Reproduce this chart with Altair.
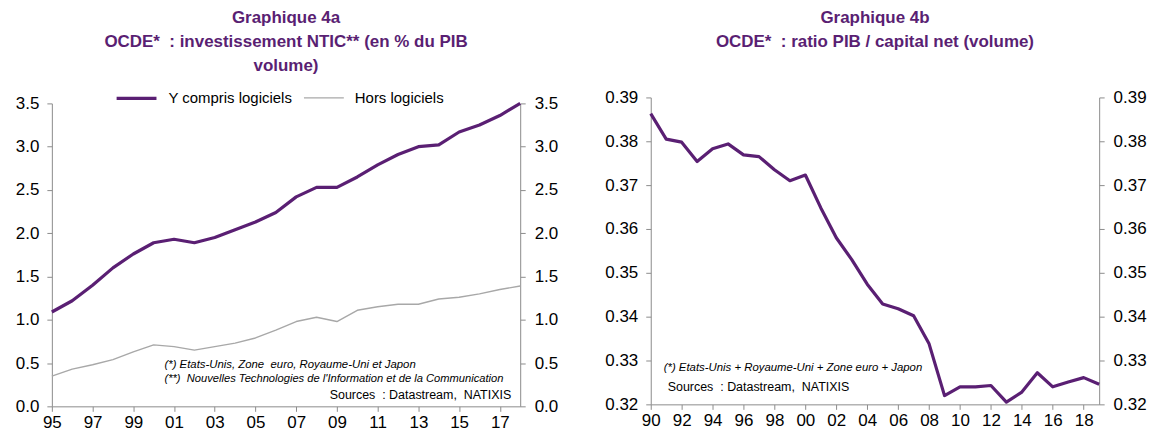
import altair as alt
import pandas as pd

# ---- data ----
years_a = list(range(1995, 2019))
y_compris = [1.09, 1.22, 1.40, 1.60, 1.76, 1.89, 1.93, 1.89, 1.95, 2.04, 2.13, 2.24,
             2.42, 2.53, 2.53, 2.65, 2.79, 2.91, 3.00, 3.02, 3.17, 3.25, 3.36, 3.50]
hors_logiciels = [0.35, 0.43, 0.48, 0.54, 0.63, 0.71, 0.69, 0.65, 0.69, 0.73, 0.79, 0.88,
                  0.98, 1.03, 0.98, 1.11, 1.15, 1.18, 1.18, 1.24, 1.26, 1.30, 1.35, 1.39]
years_b = list(range(1990, 2020))
ratio_pib_capital = [0.3863, 0.3805, 0.3798, 0.3754, 0.3783, 0.3794, 0.3769, 0.3765, 0.3735, 0.3710,
                     0.3723, 0.3648, 0.3580, 0.3530, 0.3474, 0.3429, 0.3418, 0.3402, 0.3338, 0.3220,
                     0.3240, 0.3240, 0.3243, 0.3205, 0.3228, 0.3272, 0.3240, 0.3251, 0.3261, 0.3246]
series_names = ["Y compris logiciels", "Hors logiciels"]
ticks_a_x = list(range(1995, 2018, 2))
ticks_b_x = list(range(1990, 2019, 2))
ticks_a_y = [0.0, 0.5, 1.0, 1.5, 2.0, 2.5, 3.0, 3.5]
ticks_b_y = [0.32, 0.33, 0.34, 0.35, 0.36, 0.37, 0.38, 0.39]
NB = "\u00a0"
title_a = ["Graphique 4a", "OCDE*" + NB + NB + ": investissement NTIC** (en % du PIB", "volume)"]
title_b = ["Graphique 4b", "OCDE*" + NB + NB + ": ratio PIB / capital net (volume)"]
notes_a = ["(*) Etats-Unis, Zone" + NB + NB + "euro, Royaume-Uni et Japon",
           "(**)" + NB + NB + "Nouvelles Technologies de l'Information et de la Communication"]
note_b = "(*) Etats-Unis + Royaume-Uni + Zone euro + Japon"
sources = "Sources" + NB + NB + ": Datastream," + NB + NB + "NATIXIS"

PURPLE = "#5a1f73"
GRAY = "#a8a8a8"
AXIS = "#8c8c8c"
FONT = "Liberation Sans"
NARROW = "Liberation Sans Narrow, Liberation Sans"

df_a = pd.DataFrame({
    "year": years_a + years_a,
    "value": y_compris + hors_logiciels,
    "series": [series_names[0]] * len(years_a) + [series_names[1]] * len(years_a),
})
df_b = pd.DataFrame({"year": years_b, "value": ratio_pib_capital})


def x_axis(values):
    return alt.Axis(values=values, labelExpr="format(datum.value % 100, '02d')", title=None,
                    grid=False, domainColor=AXIS, tickColor=AXIS, tickSize=5, labelFontSize=17,
                    labelFont=FONT, labelColor="black", labelPadding=3, labelFlush=False,
                    labelOverlap=False)


def y_axis(orient, fmt, values):
    return alt.Axis(orient=orient, values=values, format=fmt, title=None, grid=False,
                    domainColor=AXIS, tickColor=AXIS, tickSize=5, labelFontSize=17,
                    labelFont=FONT, labelColor="black", labelPadding=9 if orient == "right" else 8,
                    labelFlush=False, labelOverlap=False)


def note(text, x, y, align="left", italic=True, font=NARROW, size=11.4):
    return alt.Chart(pd.DataFrame({"t": [text]})).mark_text(
        align=align, baseline="middle", font=font, fontSize=size,
        fontStyle="italic" if italic else "normal", color="black"
    ).encode(x=alt.value(x), y=alt.value(y), text="t:N")


legend_a = alt.Legend(orient="none", legendX=63, legendY=-21, direction="horizontal",
                      symbolType="stroke", symbolSize=1600, labelFontSize=15, labelFont=FONT,
                      labelColor="black", columnPadding=8, labelOffset=10, title=None, padding=0)

H_A = 310
xa = alt.X("year:Q", scale=alt.Scale(domain=[1995, 2018], nice=False, zero=False),
           axis=x_axis(ticks_a_x))
ya_scale = alt.Scale(domain=[0, 3.5], nice=False, range=[H_A, 6])
lines_a = alt.Chart(df_a).mark_line(strokeJoin="round").encode(
    x=xa,
    y=alt.Y("value:Q", scale=ya_scale, axis=y_axis("left", ".1f", ticks_a_y)),
    color=alt.Color("series:N", scale=alt.Scale(domain=series_names, range=[PURPLE, GRAY]),
                    legend=legend_a, sort=series_names),
    strokeWidth=alt.StrokeWidth("series:N", scale=alt.Scale(domain=series_names, range=[3.2, 1.4]),
                                legend=legend_a, sort=series_names),
)
right_a = alt.Chart(df_a).mark_line(opacity=0).encode(
    x=xa,
    y=alt.Y("value:Q", scale=ya_scale, axis=y_axis("right", ".1f", ticks_a_y)),
    detail="series:N",
)
left_chart = alt.layer(
    lines_a, right_a,
    note(notes_a[0], 113, 269), note(notes_a[1], 113, 283, size=11.2),
    note(sources, 461, 299, align="right", italic=False, font=FONT, size=12.5),
).resolve_scale(y="independent").properties(
    width=470, height=H_A,
    title=alt.TitleParams(text=title_a, anchor="middle", frame="group", fontSize=17, font=FONT,
                          fontWeight="bold", color=PURPLE, lineHeight=24, offset=20),
)

xb = alt.X("year:Q", scale=alt.Scale(domain=[1990, 2019], nice=False, zero=False),
           axis=x_axis(ticks_b_x))
line_b = alt.Chart(df_b).mark_line(color=PURPLE, strokeWidth=3.2, strokeJoin="round").encode(
    x=xb,
    y=alt.Y("value:Q", scale=alt.Scale(domain=[0.32, 0.39], nice=False, zero=False),
            axis=y_axis("left", ".2f", ticks_b_y)),
)
right_b = alt.Chart(df_b).mark_line(opacity=0).encode(
    x=xb,
    y=alt.Y("value:Q", scale=alt.Scale(domain=[0.32, 0.39], nice=False, zero=False),
            axis=y_axis("right", ".2f", ticks_b_y)),
)
right_chart = alt.layer(
    line_b, right_b,
    note(note_b, 13, 272), note(sources, 17, 291, italic=False, font=FONT, size=12.5),
).resolve_scale(y="independent").properties(
    width=450, height=308,
    title=alt.TitleParams(text=title_b, anchor="middle", frame="group", fontSize=17, font=FONT,
                          fontWeight="bold", color=PURPLE, lineHeight=24, offset=38),
)

chart = alt.hconcat(left_chart, right_chart, spacing=46).properties(
    padding={"left": 7, "top": 0, "right": 0, "bottom": 0}, background="white"
).configure_view(strokeWidth=0)

chart.save("out.html", embed_options={"renderer": "svg", "actions": False})
